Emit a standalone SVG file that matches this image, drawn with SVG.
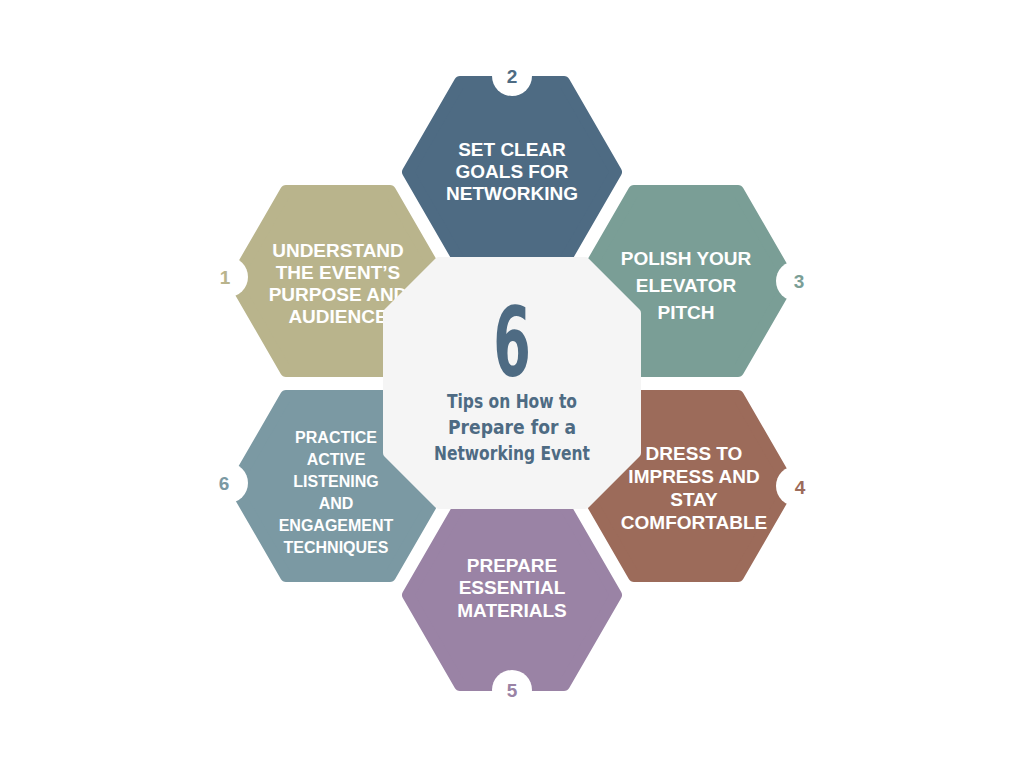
<svg xmlns="http://www.w3.org/2000/svg" width="1024" height="768" viewBox="0 0 1024 768">
<style>
.hex{stroke-linejoin:round;stroke-width:12}
.t{font-family:"Liberation Sans",Arial,sans-serif;font-weight:bold;fill:#fff;text-anchor:middle;font-size:19px}
.n{font-family:"Liberation Sans",Arial,sans-serif;font-weight:bold;font-size:19px;text-anchor:middle}
.c{font-family:"DejaVu Sans Condensed","DejaVu Sans",sans-serif;font-weight:bold;fill:#4e6b83;text-anchor:middle}
</style>
<defs>
<polygon id="h" points="-104,0 -52,-90 52,-90 104,0 52,90 -52,90"/>
</defs>
<rect width="1024" height="768" fill="#fff"/>
<g id="node1"><use href="#h" x="338" y="281" fill="#b9b48c" stroke="#b9b48c" class="hex"/>
<circle cx="228" cy="277" r="20" fill="#fff"/><text x="225" y="284" class="n" fill="#b9b48c">1</text>
<text class="t" x="338" y="257">UNDERSTAND</text><text class="t" x="338" y="279">THE EVENT’S</text><text class="t" x="338" y="301">PURPOSE AND</text><text class="t" x="338" y="323">AUDIENCE</text></g>
<g id="node2"><use href="#h" x="512" y="172" fill="#4e6b83" stroke="#4e6b83" class="hex"/>
<circle cx="512" cy="76" r="20" fill="#fff"/><text x="512" y="83" class="n" fill="#4e6b83">2</text>
<text class="t" x="512" y="156">SET CLEAR</text><text class="t" x="512" y="178">GOALS FOR</text><text class="t" x="512" y="200">NETWORKING</text></g>
<g id="node3"><use href="#h" x="686" y="281" fill="#7a9e96" stroke="#7a9e96" class="hex"/>
<circle cx="796" cy="281" r="20" fill="#fff"/><text x="799" y="288" class="n" fill="#7a9e96">3</text>
<text class="t" x="686" y="265">POLISH YOUR</text><text class="t" x="686" y="292">ELEVATOR</text><text class="t" x="686" y="319">PITCH</text></g>
<g id="node4"><use href="#h" x="686" y="486" fill="#9c6b5a" stroke="#9c6b5a" class="hex"/>
<circle cx="796" cy="486" r="20" fill="#fff"/><text x="800" y="494" class="n" fill="#9c6b5a">4</text>
<text class="t" x="694" y="460">DRESS TO</text><text class="t" x="694" y="483">IMPRESS AND</text><text class="t" x="694" y="506">STAY</text><text class="t" x="694" y="529">COMFORTABLE</text></g>
<g id="node5"><use href="#h" x="512" y="595" fill="#9a83a5" stroke="#9a83a5" class="hex"/>
<circle cx="512" cy="690" r="20" fill="#fff"/><text x="512" y="697" class="n" fill="#9a83a5">5</text>
<text class="t" x="512" y="572">PREPARE</text><text class="t" x="512" y="594">ESSENTIAL</text><text class="t" x="512" y="617">MATERIALS</text></g>
<g id="node6"><use href="#h" x="338" y="486" fill="#7b99a3" stroke="#7b99a3" class="hex"/>
<circle cx="228" cy="483" r="20" fill="#fff"/><text x="224" y="490" class="n" fill="#7b99a3">6</text>
<g style="font-size:16px"><text class="t" x="336" y="443" style="font-size:16px">PRACTICE</text><text class="t" x="336" y="465" style="font-size:16px">ACTIVE</text><text class="t" x="336" y="487" style="font-size:16px">LISTENING</text><text class="t" x="336" y="509" style="font-size:16px">AND</text><text class="t" x="336" y="531" style="font-size:16px">ENGAGEMENT</text><text class="t" x="336" y="553" style="font-size:16px">TECHNIQUES</text></g></g>
<g id="center">
<polygon points="439,262 585,262 636,313 636,453 585,504 439,504 388,453 388,313" fill="#f5f5f5" stroke="#f5f5f5" stroke-width="10" stroke-linejoin="round"/>
<text class="c" x="512" y="376" font-size="80" transform="translate(512 0) scale(0.75 1.2) translate(-512 -63)" textLength="60">6</text>
<text class="c" x="512" y="408" font-size="20" textLength="130" lengthAdjust="spacingAndGlyphs">Tips on How to</text>
<text class="c" x="512" y="434" font-size="20" textLength="128" lengthAdjust="spacingAndGlyphs">Prepare for a</text>
<text class="c" x="512" y="460" font-size="20" textLength="156" lengthAdjust="spacingAndGlyphs">Networking Event</text>
</g>
<g id="connectors"/>
</svg>
